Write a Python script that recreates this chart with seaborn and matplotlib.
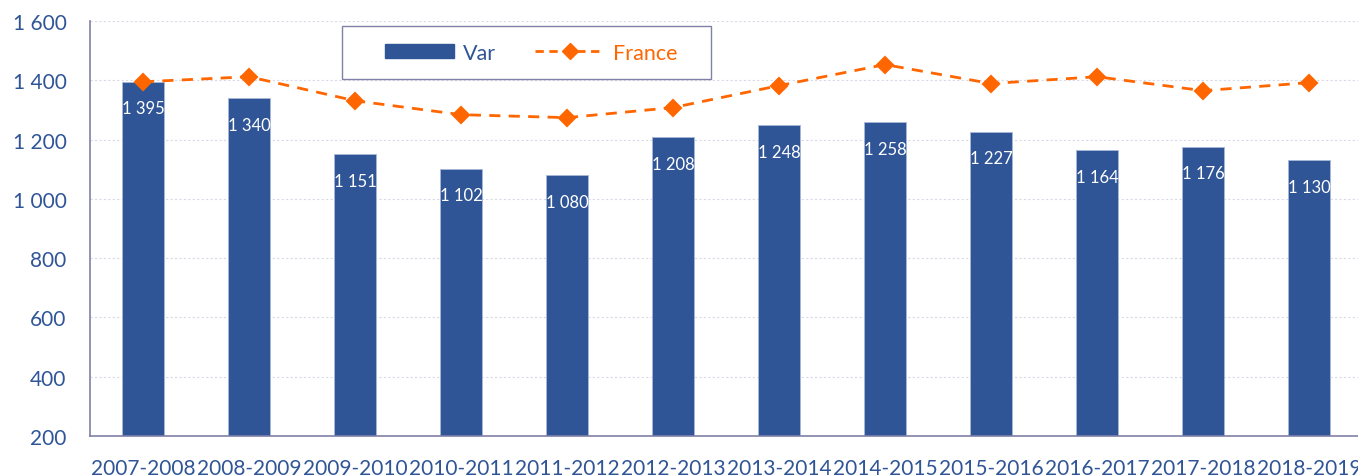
import matplotlib
matplotlib.use("Agg")
import matplotlib.pyplot as plt
import seaborn as sns
import pandas as pd
from matplotlib.patches import Patch, Rectangle
from matplotlib.lines import Line2D

categories = ["2007-2008", "2008-2009", "2009-2010", "2010-2011", "2011-2012", "2012-2013",
              "2013-2014", "2014-2015", "2015-2016", "2016-2017", "2017-2018", "2018-2019"]
var_values = [1395, 1340, 1151, 1102, 1080, 1208, 1248, 1258, 1227, 1164, 1176, 1130]
france_values = [1395, 1412, 1331, 1284, 1274, 1308, 1382, 1453, 1389, 1412, 1365, 1392]
y_ticks = [200, 400, 600, 800, 1000, 1200, 1400, 1600]

BLUE = "#2F5597"
ORANGE = "#FF6600"
AXIS = "#8080A8"
GRID = "#D9D9E8"

sns.set_theme(style="white")
plt.rcParams["font.family"] = ["Lato", "DejaVu Sans"]

df = pd.DataFrame({"cat": categories, "Var": var_values, "France": france_values})

fig = plt.figure(figsize=(13.58, 4.77), dpi=100)
ax = fig.add_axes([90 / 1358, 1 - 437 / 477, 1272 / 1358, 415 / 477])

sns.barplot(data=df, x="cat", y="Var", color=BLUE, saturation=1, width=0.4,
            edgecolor="#A9B8D8", linewidth=0.6, ax=ax, label="Var", zorder=2)
sns.pointplot(data=df, x="cat", y="France", color=ORANGE, markers="D", linestyles="--",
              ax=ax, label="France", markersize=8, linewidth=2)
for line in ax.lines:
    line.set_zorder(4)
    line.set_dashes([4, 3])

fmt = lambda v: f"{v:,}".replace(",", " ")
ax.bar_label(ax.containers[0], labels=[fmt(v) for v in var_values], padding=-25,
             color="white", fontsize=12, zorder=5)

ax.set_xlim(-0.5, 11.5)
ax.set_ylim(200, 1600)
ax.set_yticks(y_ticks)
ax.set_yticklabels([fmt(v) for v in y_ticks])
ax.set_xticks(range(len(categories)))
ax.set_xticklabels(categories)
ax.set_xlabel("")
ax.set_ylabel("")

ax.set_xticks([i - 0.5 for i in range(len(categories) + 1)], minor=True)
ax.tick_params(axis="x", which="major", length=0, labelsize=15, labelcolor=BLUE, pad=16)
ax.tick_params(axis="x", which="minor", direction="inout", length=14, width=1, color=AXIS)
ax.tick_params(axis="y", direction="inout", length=14, width=1, color=AXIS,
               labelsize=15, labelcolor=BLUE, pad=10)

ax.grid(axis="y", color=GRID, linestyle=(0, (2, 2)), linewidth=0.8, zorder=0)
ax.set_axisbelow(True)
for s in ["top", "right"]:
    ax.spines[s].set_visible(False)
for s in ["left", "bottom"]:
    ax.spines[s].set_color(AXIS)
    ax.spines[s].set_linewidth(1.2)

# legend frame
frame = Rectangle((252 / 1272, 357 / 415), 369 / 1272, 53 / 415, transform=ax.transAxes,
                  facecolor="white", edgecolor=AXIS, linewidth=1, zorder=6, clip_on=False)
ax.add_patch(frame)

h_var = Patch(facecolor=BLUE, edgecolor=BLUE)
h_fr = Line2D([], [], color=ORANGE, linestyle="--", dashes=[3, 2], marker="D", markersize=8, linewidth=2)
leg = ax.legend([h_var, h_fr], ["Var", "France"], loc="center left",
                bbox_to_anchor=(295 / 1272, 383.5 / 415), ncol=2, fontsize=15.5, frameon=False,
                handlelength=3.2, handleheight=0.6,
                columnspacing=1.85, borderpad=0, handletextpad=0.4,
                borderaxespad=0)
leg.texts[0].set_color(BLUE)
leg.texts[1].set_color(ORANGE)
leg.set_zorder(7)

fig.savefig("out.png", dpi=100)
